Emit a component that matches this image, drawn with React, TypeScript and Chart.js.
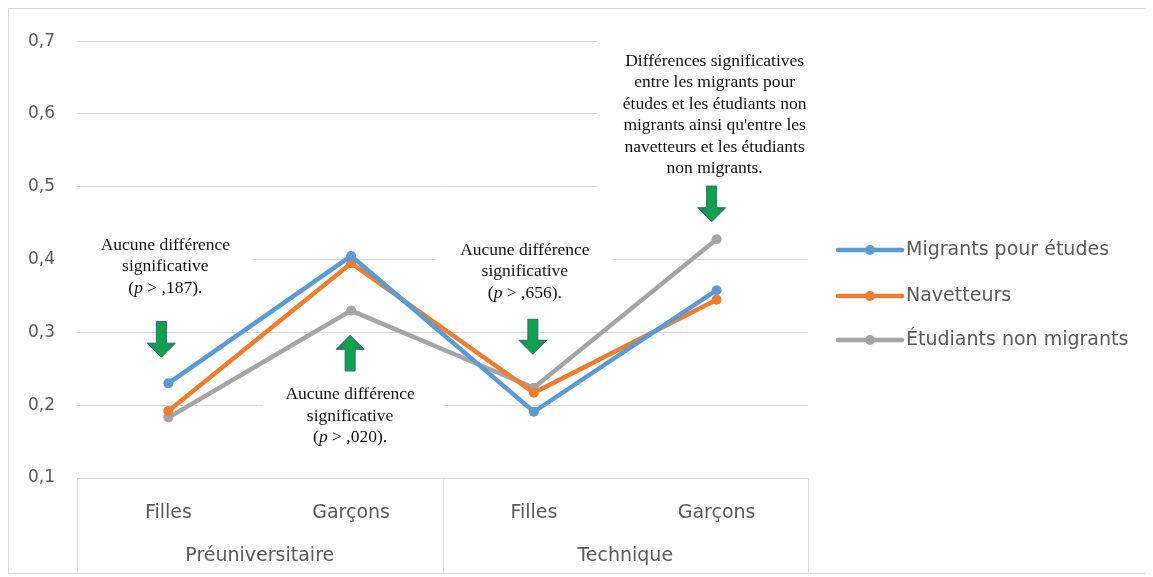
import React, { useEffect, useRef } from "react";
import { Chart, registerables } from "chart.js";
Chart.register(...registerables);

const categories = ["Filles", "Garçons", "Filles", "Garçons"];
const groupLabels = ["Préuniversitaire", "Technique"];
const seriesNames = ["Migrants pour études", "Navetteurs", "Étudiants non migrants"];
const migrantsValues = [0.23, 0.405, 0.191, 0.358];
const navetteursValues = [0.192, 0.395, 0.217, 0.345];
const nonMigrantsValues = [0.183, 0.33, 0.224, 0.428];
const seriesColors = ["#5B9BD5", "#ED7D31", "#A5A5A5"];
const yMin = 0.1;
const yMax = 0.7;
const yStep = 0.1;

const noteTexts = [
  ["Aucune différence", "significative", "P:,187)."],
  ["Aucune différence", "significative", "P:,020)."],
  ["Aucune différence", "significative", "P:,656)."],
  [
    "Différences significatives",
    "entre les migrants pour",
    "études et les étudiants non",
    "migrants ainsi qu'entre les",
    "navetteurs et les étudiants",
    "non migrants.",
  ],
];

// layout of the notes (styles): category index, offsets in px, vertical spots in axis units
const noteLayout = [
  { cat: 0, tdx: -3, adx: -7, boxL: -91, boxR: 85, boxT: 0.4347, boxB: 0.3463, textY: 0.4197, arrowFrom: 0.315, arrowTo: 0.266 },
  { cat: 1, tdx: -1, adx: -1, boxL: -88, boxR: 92, boxT: 0.2333, boxB: 0.1408, textY: 0.2143, arrowFrom: 0.247, arrowTo: 0.296 },
  { cat: 2, tdx: -9, adx: -1, boxL: -97, boxR: 79, boxT: 0.4279, boxB: 0.3381, textY: 0.4129, arrowFrom: 0.318, arrowTo: 0.27 },
  { cat: 3, tdx: -2, adx: -5, boxL: -119, boxR: 98, boxT: 0.7122, boxB: 0.485, textY: 0.6728, arrowFrom: 0.501, arrowTo: 0.452 },
];

const SERIF = "'Liberation Serif', 'DejaVu Serif', serif";
const SANS = "'DejaVu Sans', 'Open Sans', sans-serif";
const NOTE_SIZE = 17.5;

function drawArrow(ctx: CanvasRenderingContext2D, x: number, yFrom: number, yTo: number) {
  const dir = yTo > yFrom ? 1 : -1;
  const headLen = 14;
  const shaftHalf = 5;
  const headHalf = 14;
  const yHeadBase = yTo - dir * headLen;
  ctx.save();
  ctx.beginPath();
  ctx.moveTo(x - shaftHalf, yFrom);
  ctx.lineTo(x + shaftHalf, yFrom);
  ctx.lineTo(x + shaftHalf, yHeadBase);
  ctx.lineTo(x + headHalf, yHeadBase);
  ctx.lineTo(x, yTo);
  ctx.lineTo(x - headHalf, yHeadBase);
  ctx.lineTo(x - shaftHalf, yHeadBase);
  ctx.closePath();
  const g = ctx.createLinearGradient(x - headHalf, 0, x + headHalf, 0);
  g.addColorStop(0, "#2a6f77");
  g.addColorStop(0.35, "#11a14e");
  g.addColorStop(0.65, "#11a14e");
  g.addColorStop(1, "#2a6f77");
  ctx.fillStyle = g;
  ctx.fill();
  ctx.strokeStyle = "#2d6c74";
  ctx.lineWidth = 1;
  ctx.stroke();
  ctx.restore();
}

const notesPlugin = {
  id: "notesPlugin",
  beforeDatasetsDraw(chart: any) {
    const { ctx, scales } = chart;
    const xs = scales.x;
    const ys = scales.y;
    noteLayout.forEach((n, i) => {
      const cx = xs.getPixelForValue(n.cat);
      const top = ys.getPixelForValue(n.boxT);
      const bot = ys.getPixelForValue(n.boxB);
      ctx.save();
      ctx.fillStyle = "#ffffff";
      ctx.fillRect(cx + n.boxL, top, n.boxR - n.boxL, bot - top);
      ctx.fillStyle = "#111111";
      ctx.textBaseline = "middle";
      const lines = noteTexts[i];
      const y0 = ys.getPixelForValue(n.textY);
      lines.forEach((line, k) => {
        const ly = y0 + k * 21.5;
        const tx = cx + n.tdx;
        if (line.startsWith("P:")) {
          const rest = line.slice(2);
          const parts = [
            { t: "(", f: `${NOTE_SIZE}px ${SERIF}` },
            { t: "p", f: `italic ${NOTE_SIZE}px ${SERIF}` },
            { t: " > ", f: `${NOTE_SIZE}px ${SERIF}` },
            { t: rest, f: `${NOTE_SIZE}px ${SERIF}` },
          ];
          let w = 0;
          parts.forEach((p) => {
            ctx.font = p.f;
            w += ctx.measureText(p.t).width;
          });
          let x = tx - w / 2;
          ctx.textAlign = "left";
          parts.forEach((p) => {
            ctx.font = p.f;
            ctx.fillText(p.t, x, ly);
            x += ctx.measureText(p.t).width;
          });
        } else {
          ctx.font = `${NOTE_SIZE}px ${SERIF}`;
          ctx.textAlign = "center";
          ctx.fillText(line, tx, ly);
        }
      });
      ctx.restore();
      drawArrow(ctx, cx + n.adx, ys.getPixelForValue(n.arrowFrom), ys.getPixelForValue(n.arrowTo));
    });
  },
};

const axisBoxPlugin = {
  id: "axisBoxPlugin",
  afterDraw(chart: any) {
    const { ctx, chartArea, scales } = chart;
    const xs = scales.x;
    const bottom = chartArea.bottom;
    const depth = 94;
    const mid = (xs.getPixelForValue(1) + xs.getPixelForValue(2)) / 2;
    ctx.save();
    ctx.strokeStyle = "#d9d9d9";
    ctx.lineWidth = 1;
    [chartArea.left, mid, chartArea.right].forEach((x) => {
      const px = Math.round(x) + 0.5;
      ctx.beginPath();
      ctx.moveTo(px, bottom);
      ctx.lineTo(px, bottom + depth);
      ctx.stroke();
    });
    ctx.fillStyle = "#595959";
    ctx.font = `19px ${SANS}`;
    ctx.textAlign = "center";
    ctx.textBaseline = "middle";
    const centers = [(chartArea.left + mid) / 2, (mid + chartArea.right) / 2];
    groupLabels.forEach((g, i) => ctx.fillText(g, centers[i], bottom + 78));
    ctx.restore();
  },
};

const legendPlugin = {
  id: "customLegend",
  afterDraw(chart: any) {
    const { ctx, chartArea } = chart;
    const x0 = chartArea.right + 30;
    const ys = [241, 287, 331];
    ctx.save();
    chart.data.datasets.forEach((ds: any, i: number) => {
      const y = ys[i];
      ctx.strokeStyle = ds.borderColor;
      ctx.lineWidth = 4.5;
      ctx.lineCap = "round";
      ctx.beginPath();
      ctx.moveTo(x0, y);
      ctx.lineTo(x0 + 64, y);
      ctx.stroke();
      ctx.fillStyle = ds.borderColor;
      ctx.beginPath();
      ctx.arc(x0 + 32, y, 5, 0, Math.PI * 2);
      ctx.fill();
      ctx.fillStyle = "#595959";
      ctx.font = `19px ${SANS}`;
      ctx.textAlign = "left";
      ctx.textBaseline = "middle";
      ctx.fillText(ds.label, x0 + 68, y);
    });
    ctx.restore();
  },
};

export default function App() {
  const ref = useRef<HTMLCanvasElement | null>(null);
  useEffect(() => {
    if (!ref.current) return;
    const seriesValues = [migrantsValues, navetteursValues, nonMigrantsValues];
    const chart = new Chart(ref.current, {
      type: "line",
      data: {
        labels: categories,
        datasets: seriesNames.map((name, i) => ({
          label: name,
          data: seriesValues[i],
          borderColor: seriesColors[i],
          backgroundColor: seriesColors[i],
          borderWidth: 4.5,
          pointRadius: 5,
          pointBorderWidth: 0,
          pointBackgroundColor: seriesColors[i],
          tension: 0,
          fill: false,
        })),
      },
      options: {
        responsive: false,
        animation: false,
        layout: { padding: { top: 28, right: 342, bottom: 0, left: 0 } },
        plugins: { legend: { display: false }, tooltip: { enabled: false } },
        scales: {
          x: {
            offset: true,
            grid: { display: false },
            border: { display: false },
            ticks: { color: "#595959", font: { family: SANS, size: 19 }, padding: 16, maxRotation: 0 },
            afterFit: (s: any) => {
              s.height = 95;
            },
          },
          y: {
            min: yMin,
            max: yMax,
            grid: { color: "#d9d9d9", drawTicks: false, lineWidth: 1 },
            border: { display: false },
            ticks: {
              stepSize: yStep,
              color: "#595959",
              font: { family: SANS, size: 17 },
              padding: 22,
              callback: (v: any) => Number(v).toFixed(1).replace(".", ","),
            },
            afterFit: (s: any) => {
              s.width = 68;
            },
          },
        },
      },
      plugins: [notesPlugin, axisBoxPlugin, legendPlugin],
    });
    return () => chart.destroy();
  }, []);
  return (
    <div style={{ width: 1141, height: 564, border: "1px solid #d9d9d9", background: "#fff" }}>
      <canvas ref={ref} width={1141} height={564} style={{ display: "block" }} />
    </div>
  );
}
